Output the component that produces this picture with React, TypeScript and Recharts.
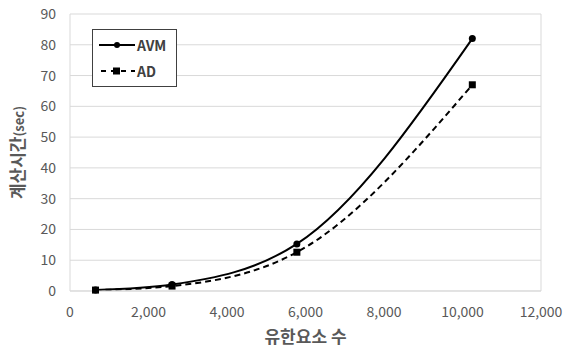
import React from 'react';
import {
  LineChart, Line, XAxis, YAxis, CartesianGrid
} from 'recharts';

// element counts and computation times (sec)
const elementCounts = [650, 2600, 5780, 10250];
const avmTimes = [0.3, 2.1, 15.3, 82];
const adTimes = [0.3, 1.6, 12.6, 67];
const xTicks = [0, 2000, 4000, 6000, 8000, 10000, 12000];
const yTicks = [0, 10, 20, 30, 40, 50, 60, 70, 80, 90];

const data = elementCounts.map((n, i) => ({ n, avm: avmTimes[i], ad: adTimes[i] }));

const FONT = '"Noto Sans CJK KR", "Noto Sans", sans-serif';
const TEXT = '#595959';

const SquareDot = (props: any) => {
  const { cx, cy } = props;
  if (cx == null || cy == null) return null;
  return <rect x={cx - 3.5} y={cy - 3.5} width={7} height={7} fill="#000" />;
};

// rotated y label, "(sec)" a bit smaller like the original
const YLabel = (props: any) => {
  const { viewBox } = props;
  const cx = 24;
  const cy = viewBox.y + viewBox.height / 2;
  return (
    <text
      x={cx}
      y={cy}
      transform={`rotate(-90 ${cx} ${cy})`}
      textAnchor="middle"
      fill={TEXT}
      fontFamily={FONT}
      fontWeight={700}
    >
      <tspan fontSize={17}>계산시간</tspan>
      <tspan fontSize={13}>(sec)</tspan>
    </text>
  );
};

// legend box sits inside the plot, top-left
const LegendBox = () => (
  <div
    style={{
      position: 'absolute',
      left: 92,
      top: 29,
      width: 83,
      height: 56,
      border: '1px solid #404040',
      background: '#fff',
      fontFamily: FONT,
      fontWeight: 700,
      fontSize: 14,
      color: '#404040',
    }}
  >
    <div style={{ display: 'flex', alignItems: 'center', height: 29, paddingLeft: 6 }}>
      <svg width={36} height={10}>
        <line x1={0} y1={5} x2={36} y2={5} stroke="#000" strokeWidth={2} />
        <circle cx={18} cy={5} r={3} fill="#000" />
      </svg>
      <span style={{ marginLeft: 2 }}>AVM</span>
    </div>
    <div style={{ display: 'flex', alignItems: 'center', height: 24, paddingLeft: 6 }}>
      <svg width={36} height={10}>
        <line x1={0} y1={5} x2={36} y2={5} stroke="#000" strokeWidth={2} strokeDasharray="5 5" strokeDashoffset={-2} />
        <rect x={14} y={1.5} width={7} height={7} fill="#000" />
      </svg>
      <span style={{ marginLeft: 2 }}>AD</span>
    </div>
  </div>
);

const fmt = (v: number) => v.toLocaleString('en-US');

export default function App() {
  return (
    <div style={{ position: 'absolute', left: 0, top: 0, width: 565, height: 349, background: '#fff' }}>
      <LineChart width={565} height={349} data={data} margin={{ top: 14, right: 24, left: 25, bottom: 0 }}>
        <CartesianGrid
          stroke="#d9d9d9"
          horizontal
          vertical
          verticalCoordinatesGenerator={({ offset }: any) => [offset.left, offset.left + offset.width]}
        />
        <XAxis
          dataKey="n"
          type="number"
          domain={[0, 12000]}
          ticks={xTicks}
          tickFormatter={fmt}
          axisLine={{ stroke: '#d9d9d9' }}
          tickLine={false}
          tick={{ fill: TEXT, fontSize: 14, fontFamily: FONT, dy: 8 }}
          label={{
            value: '유한요소 수',
            position: 'insideBottom',
            offset: 6,
            fill: TEXT,
            fontSize: 17,
            fontWeight: 700,
            fontFamily: FONT,
          }}
          height={58}
        />
        <YAxis
          type="number"
          domain={[0, 90]}
          ticks={yTicks}
          axisLine={false}
          tickLine={false}
          width={45}
          tick={{ fill: TEXT, fontSize: 14, fontFamily: FONT, dx: -6 }}
          label={<YLabel />}
        />
        <Line
          dataKey="avm"
          name="AVM"
          type="monotone"
          stroke="#000"
          strokeWidth={2}
          dot={{ r: 3.5, fill: '#000', stroke: '#000', strokeWidth: 0 }}
          isAnimationActive={false}
        />
        <Line
          dataKey="ad"
          name="AD"
          type="monotone"
          stroke="#000"
          strokeWidth={2}
          strokeDasharray="6 4"
          dot={<SquareDot />}
          isAnimationActive={false}
        />
      </LineChart>
      <LegendBox />
    </div>
  );
}
